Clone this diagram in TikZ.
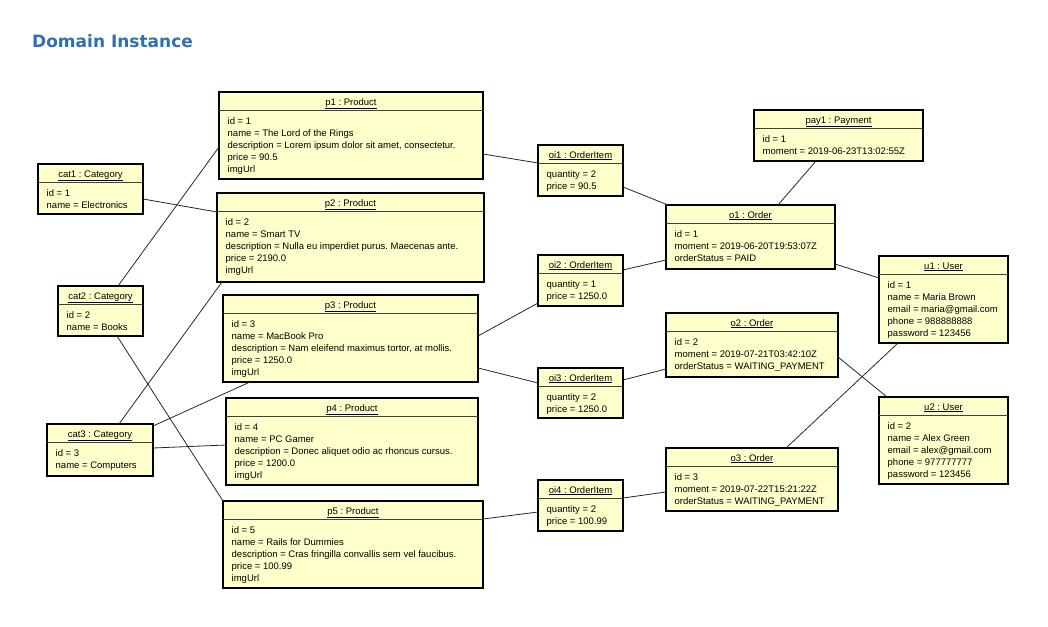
\documentclass[tikz,border=0pt]{standalone}
\usepackage{fontspec}
\setmainfont{Liberation Sans}
\newfontfamily\titlefont{DejaVu Sans}
\usetikzlibrary{calc}

\definecolor{objyellow}{RGB}{255,255,204}
\definecolor{titleblue}{RGB}{46,112,178}

% one object box: name, left, top, width, height, title, body lines
\newcommand{\objbox}[7]{%
  \node[obj, minimum width=#4pt, minimum height=#5pt] (#1) at (#2,#3) {};
  \draw[sep] ([yshift=-18pt]#1.north west) -- ([yshift=-18pt]#1.north east);
  \node[objtitle] at ([yshift=-13pt]#1.north) {\underline{#6}};
  \node[objbody] at ([xshift=8.5pt,yshift=-24pt]#1.north west) {\rule{0pt}{8.5pt}#7};
}

\begin{document}
\frenchspacing
\begin{tikzpicture}[
    x=1pt, y=-1pt,
    obj/.style={draw, line width=1.7pt, fill=objyellow, anchor=north west,
                inner sep=0pt, outer sep=0pt},
    sep/.style={line width=0.7pt, black!75},
    objtitle/.style={anchor=base, inner sep=0pt, font=\fontsize{9.5}{12}\selectfont},
    objbody/.style={anchor=north west, align=left, inner sep=0pt,
                    font=\fontsize{9.5}{12}\selectfont},
    link/.style={line width=0.8pt, black!85},
]
    \useasboundingbox (0,0) rectangle (1048,626);

    %==================== TITLE ====================
    \node[anchor=base west, inner sep=0pt, text=titleblue,
          font=\titlefont\bfseries\fontsize{17}{19}\selectfont] (title) at (32,48)
        {Domain Instance};

    %==================== CATEGORIES ====================
    \objbox{cat1}{38}{164}{105}{50}{cat1 : Category}{id = 1\\ name = Electronics}
    \objbox{cat2}{58}{286}{85}{50}{cat2 : Category}{id = 2\\ name = Books}
    \objbox{cat3}{47}{424}{106}{52}{cat3 : Category}{id = 3\\ name = Computers}

    %==================== PRODUCTS ====================
    \objbox{p1}{219}{92}{264}{87}{p1 : Product}
        {id = 1\\ name = The Lord of the Rings\\
         description = Lorem ipsum dolor sit amet, consectetur.\\ price = 90.5\\ imgUrl}
    \objbox{p2}{217}{193}{267}{89}{p2 : Product}
        {id = 2\\ name = Smart TV\\
         description = Nulla eu imperdiet purus. Maecenas ante.\\ price = 2190.0\\ imgUrl}
    \objbox{p3}{223}{295}{255}{87}{p3 : Product}
        {id = 3\\ name = MacBook Pro\\
         description = Nam eleifend maximus tortor, at mollis.\\ price = 1250.0\\ imgUrl}
    \objbox{p4}{226}{398}{252}{87}{p4 : Product}
        {id = 4\\ name = PC Gamer\\
         description = Donec aliquet odio ac rhoncus cursus.\\ price = 1200.0\\ imgUrl}
    \objbox{p5}{223}{501}{260}{87}{p5 : Product}
        {id = 5\\ name = Rails for Dummies\\
         description = Cras fringilla convallis sem vel faucibus.\\ price = 100.99\\ imgUrl}

    %==================== ORDER ITEMS ====================
    \objbox{oi1}{538}{145}{85}{51}{oi1 : OrderItem}{quantity = 2\\ price = 90.5}
    \objbox{oi2}{538}{255}{85}{51}{oi2 : OrderItem}{quantity = 1\\ price = 1250.0}
    \objbox{oi3}{538}{368}{85}{50}{oi3 : OrderItem}{quantity = 2\\ price = 1250.0}
    \objbox{oi4}{538}{480}{85}{51}{oi4 : OrderItem}{quantity = 2\\ price = 100.99}

    %==================== ORDERS + PAYMENT ====================
    \objbox{o1}{666}{205}{169}{64}{o1 : Order}
        {id = 1\\ moment = 2019-06-20T19:53:07Z\\ orderStatus = PAID}
    \objbox{o2}{666}{313}{172}{64}{o2 : Order}
        {id = 2\\ moment = 2019-07-21T03:42:10Z\\ orderStatus = WAITING\_PAYMENT}
    \objbox{o3}{666}{448}{172}{63}{o3 : Order}
        {id = 3\\ moment = 2019-07-22T15:21:22Z\\ orderStatus = WAITING\_PAYMENT}
    \objbox{pay1}{754}{110}{169}{51}{pay1 : Payment}
        {id = 1\\ moment = 2019-06-23T13:02:55Z}

    %==================== USERS ====================
    \objbox{u1}{879}{256}{129}{87}{u1 : User}
        {id = 1\\ name = Maria Brown\\ email = maria@gmail.com\\ phone = 988888888\\
         password = 123456}
    \objbox{u2}{879}{397}{129}{87}{u2 : User}
        {id = 2\\ name = Alex Green\\ email = alex@gmail.com\\ phone = 977777777\\
         password = 123456}

    %==================== LINKS ====================
    % category - product
    \draw[link] ([yshift=-35pt]cat1.north east) -- ([yshift=-19pt]p2.north west);
    \draw[link] ([xshift=17.5pt]cat2.north) -- ([yshift=-55pt]p1.north west);
    \draw[link] ([xshift=16.5pt]cat2.south) -- (p5.north west);
    \draw[link] ([xshift=19pt]cat3.north) -- ([xshift=5pt]p2.south west);
    \draw[link] ([yshift=-2pt]cat3.north east) -- ([xshift=27pt]p3.south west);
    \draw[link] ([yshift=-24pt]cat3.north east) -- ([yshift=-47pt]p4.north west);

    % product - order item - order
    \draw[link] ([yshift=-62pt]p1.north east) -- ([yshift=-18pt]oi1.north west);
    \draw[link] ([yshift=-42pt]oi1.north east) -- ([xshift=2pt]o1.north west);
    \draw[link] ([yshift=-41pt]p3.north east) -- ([yshift=3pt]oi2.south west);
    \draw[link] ([yshift=-15pt]oi2.north east) -- ([yshift=-55pt]o1.north west);
    \draw[link] ([yshift=-73pt]p3.north east) -- ([yshift=-15pt]oi3.north west);
    \draw[link] ([yshift=-12pt]oi3.north east) -- ([yshift=-56pt]o2.north west);
    \draw[link] ([yshift=-18pt]p5.north east) -- ([yshift=-32pt]oi4.north west);
    \draw[link] ([yshift=-18pt]oi4.north east) -- ([yshift=-44pt]o3.north west);

    % order - payment / user
    \draw[link] ([xshift=-22.5pt]pay1.south) -- ([xshift=27.5pt]o1.north);
    \draw[link] ([yshift=-59pt]o1.north east) -- ([yshift=-22pt]u1.north west);
    \draw[link] ([yshift=-44pt]o2.north east) -- ([xshift=8pt]u2.north west);
    \draw[link] ([xshift=34pt]o3.north) -- ([xshift=19pt]u1.south west);

\end{tikzpicture}
\end{document}
